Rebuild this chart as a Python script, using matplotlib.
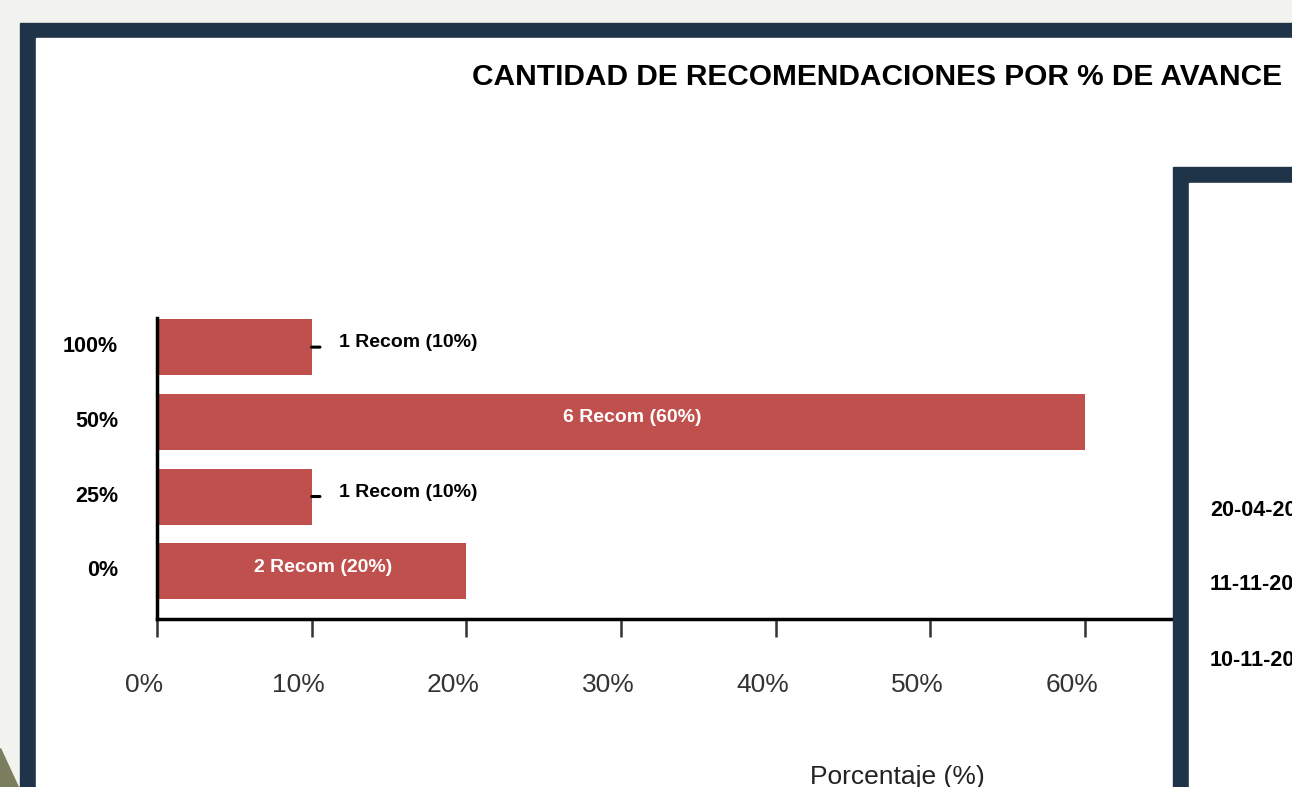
import matplotlib
matplotlib.use('agg')
import matplotlib.pyplot as plt
from matplotlib.patches import Rectangle, Polygon
from matplotlib.transforms import ScaledTranslation

plt.rcParams['font.family'] = ['Liberation Sans', 'DejaVu Sans']

# data
categories = ['0%', '25%', '50%', '100%']
shares = [20, 10, 60, 10]
counts = [2, 1, 6, 1]
x_ticks = [0, 10, 20, 30, 40, 50, 60]
dates = ['20-04-2023', '11-11-2022', '10-11-2022']

W, H = 1292, 787
NAVY = '#1f3349'
BAR = '#c0504d'


def fx(x):
    return x / W


def fy(y):
    return 1 - y / H


fig = plt.figure(figsize=(W / 100, H / 100), dpi=100, facecolor='#f2f2ee')

# slide frame
fig.add_artist(Rectangle((fx(20), fy(900)), fx(1400), fy(23) - fy(900),
                         transform=fig.transFigure, color=NAVY, zorder=0.1))
fig.add_artist(Rectangle((fx(36), fy(900)), fx(1400), fy(38) - fy(900),
                         transform=fig.transFigure, color='white', zorder=0.2))
fig.add_artist(Polygon([(fx(0), fy(748)), (fx(0), fy(787)), (fx(18), fy(787))],
                       transform=fig.transFigure, color='#7b7e5e', zorder=0.3))

# right panel (partly outside the slide crop)
fig.add_artist(Rectangle((fx(1173), fy(900)), fx(300), fy(167) - fy(900),
                         transform=fig.transFigure, color=NAVY, zorder=3))
fig.add_artist(Rectangle((fx(1189), fy(900)), fx(300), fy(183) - fy(900),
                         transform=fig.transFigure, color='white', zorder=3.1))
for i, d in enumerate(dates):
    fig.text(fx(1210), fy(510 + 75 * i), d, fontsize=15.5, fontweight='bold',
             ha='left', va='center', zorder=4)

# chart
ax = fig.add_axes([fx(157), fy(619), fx(1637 - 157), fy(318) - fy(619)])
ax.set_zorder(1)
ax.patch.set_alpha(0)

ypos = list(range(len(categories)))
ax.barh(ypos, shares, height=0.75, color=BAR)
ax.set_xlim(0, 95.7)
ax.set_ylim(-0.64, 3.39)

for i, (v, n) in enumerate(zip(shares, counts)):
    label = '%d Recom (%d%%)' % (n, v)
    if v < 15:
        ax.annotate('', xy=(v, i), xytext=(6, 0), textcoords='offset points',
                    arrowprops=dict(arrowstyle='-', lw=2.2, color='black',
                                    shrinkA=0, shrinkB=0))
        ax.annotate(label, xy=(v, i), xytext=(20, 3), textcoords='offset points',
                    fontsize=14, fontweight='bold', ha='left', va='center')
    else:
        ax.annotate(label, xy=(v / 2, i), xytext=(8, 3), textcoords='offset points',
                    fontsize=14, fontweight='bold', color='white',
                    ha='center', va='center')

ax.set_yticks(ypos)
ax.set_yticklabels(categories, fontsize=15.5, fontweight='bold')
ax.tick_params(axis='y', length=0, pad=28)
for lab in ax.get_yticklabels():
    lab.set_transform(lab.get_transform() + ScaledTranslation(0, 3 / 100, fig.dpi_scale_trans))

ax.set_xticks(x_ticks)
ax.set_xticklabels(['%d%%' % t for t in x_ticks], fontsize=19, color='#333333')
ax.tick_params(axis='x', length=13, width=1.8, color='#333333', pad=26)
shift = ScaledTranslation(-13 / 100, 0, fig.dpi_scale_trans)
for lab in ax.get_xticklabels():
    lab.set_transform(lab.get_transform() + shift)

for s in ['top', 'right']:
    ax.spines[s].set_visible(False)
ax.spines['left'].set_linewidth(2.5)
ax.spines['bottom'].set_linewidth(2.5)

ax.set_xlabel('Porcentaje (%)', fontsize=19, color='#222222')
ax.xaxis.set_label_coords(0.5, -0.525)
ax.xaxis.label.set_va('center')

fig.text(fx(877), fy(77), 'CANTIDAD DE RECOMENDACIONES POR % DE AVANCE',
         fontsize=21.5, fontweight='bold', ha='center', va='center', zorder=2)

fig.savefig('out.png', dpi=100, facecolor=fig.get_facecolor())
